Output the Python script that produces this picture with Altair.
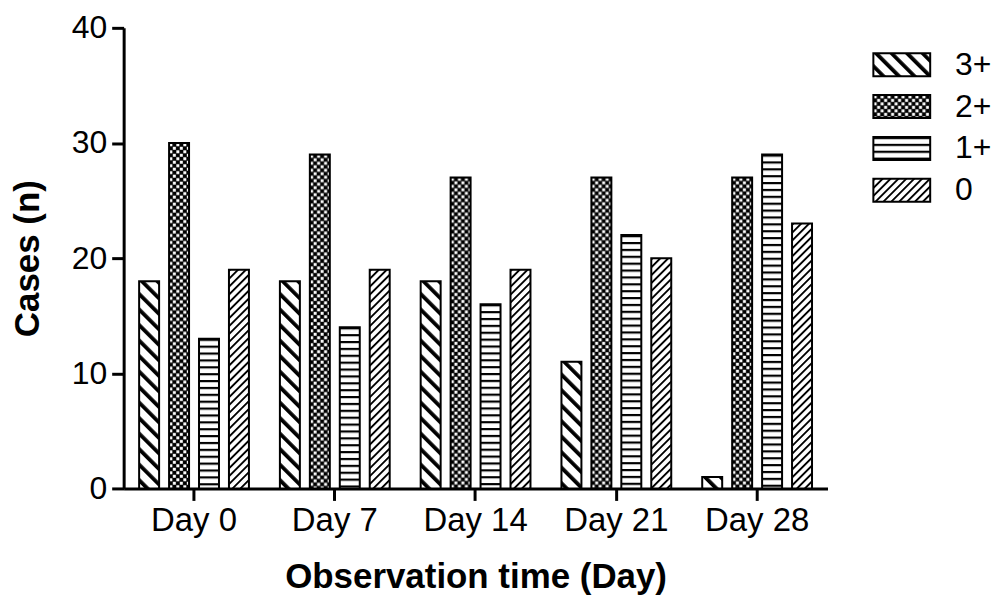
import base64
import altair as alt
import pandas as pd

# ---- data ----
days = ["Day 0", "Day 7", "Day 14", "Day 21", "Day 28"]
grades = ["3+", "2+", "1+", "0"]
cases_3plus = [18, 18, 18, 11, 1]
cases_2plus = [30, 29, 27, 27, 27]
cases_1plus = [13, 14, 16, 22, 29]
cases_0 = [19, 19, 19, 20, 23]
y_ticks = [0, 10, 20, 30, 40]

FONT = "Liberation Sans"


# ---- hatch patterns (style only) as small SVG images ----
def svg_url(defs_body, tile_w, tile_h, transform=""):
    tr = f' patternTransform="{transform}"' if transform else ""
    svg = (
        '<svg xmlns="http://www.w3.org/2000/svg" width="100%" height="100%">'
        f'<defs><pattern id="p" patternUnits="userSpaceOnUse" width="{tile_w}" height="{tile_h}"{tr}>'
        f'<rect width="{tile_w}" height="{tile_h}" fill="white"/>{defs_body}</pattern></defs>'
        '<rect width="100%" height="100%" fill="url(#p)"/></svg>'
    )
    return "data:image/svg+xml;base64," + base64.b64encode(svg.encode()).decode()


pattern_url = {
    "3+": svg_url('<rect x="0" y="0" width="3.8" height="11" fill="black"/>', 11, 11, "rotate(-45)"),
    "2+": svg_url('<rect x="0" y="0" width="7" height="7" fill="black"/>'
                  '<rect x="0.3" y="0.3" width="3" height="3" fill="white"/>'
                  '<rect x="3.8" y="3.8" width="3" height="3" fill="white"/>', 7, 7),
    "1+": svg_url('<rect x="0" y="0" width="7" height="2.2" fill="black"/>', 7, 6.9),
    "0": svg_url('<rect x="0" y="0" width="1.9" height="5.6" fill="black"/>', 5.6, 5.6, "rotate(45)"),
}

series = {"3+": cases_3plus, "2+": cases_2plus, "1+": cases_1plus, "0": cases_0}
rows = []
for g in grades:
    for d, v in zip(days, series[g]):
        rows.append({"day": d, "grade": g, "cases": v, "url": pattern_url[g]})
df = pd.DataFrame(rows)

base = alt.Chart(df).encode(
    x=alt.X(
        "day:N",
        sort=days,
        scale=alt.Scale(paddingInner=0.22, paddingOuter=0.11),
        axis=alt.Axis(title="Observation time (Day)", labelAngle=0, labelPadding=4,
                      labelFontSize=33, titlePadding=22),
    ),
    xOffset=alt.XOffset("grade:N", sort=grades, scale=alt.Scale(paddingInner=0.333, paddingOuter=0)),
    y=alt.Y(
        "cases:Q",
        scale=alt.Scale(domain=[0, 40], nice=False),
        axis=alt.Axis(values=y_ticks, title="Cases (n)", labelPadding=5, labelFontSize=32,
                      titlePadding=26),
    ),
    y2=alt.datum(0),
)

bars_img = base.mark_image(aspect=False).encode(url="url:N")
bars_box = base.mark_bar(fillOpacity=0, stroke="black", strokeWidth=2)

main = alt.layer(bars_img, bars_box).properties(width=706, height=462)

# ---- legend panel ----
leg_df = pd.DataFrame({"grade": grades, "url": [pattern_url[g] for g in grades]})
leg_base = alt.Chart(leg_df).encode(
    y=alt.Y(
        "grade:N",
        sort=grades,
        axis=None,
        scale=alt.Scale(domain=grades, range=[25.5, 174.5], paddingInner=0.45, paddingOuter=0),
    )
)
leg_img = leg_base.mark_image(aspect=False).encode(x=alt.value(0), x2=alt.value(57), url="url:N")
leg_box = leg_base.mark_bar(fillOpacity=0, stroke="black", strokeWidth=2).encode(
    x=alt.value(0), x2=alt.value(57)
)
leg_txt = leg_base.mark_text(
    align="left", baseline="middle", font=FONT, fontSize=32, color="black"
).encode(x=alt.value(82), text="grade:N")
legend = alt.layer(leg_img, leg_box, leg_txt).properties(width=100, height=462)

chart = (
    alt.hconcat(main, legend, spacing=45)
    .properties(padding={"left": 2, "top": 3, "right": 0, "bottom": 4}, background="white")
    .configure_view(strokeWidth=0)
    .configure_axis(
        domainColor="black",
        domainWidth=3,
        tickColor="black",
        tickWidth=3,
        tickSize=12,
        grid=False,
        labelFont=FONT,
        labelColor="black",
        titleFont=FONT,
        titleFontSize=35,
        titleFontWeight="bold",
        titleColor="black",
    )
)

chart.save("out.html", embed_options={"renderer": "svg", "actions": False})
